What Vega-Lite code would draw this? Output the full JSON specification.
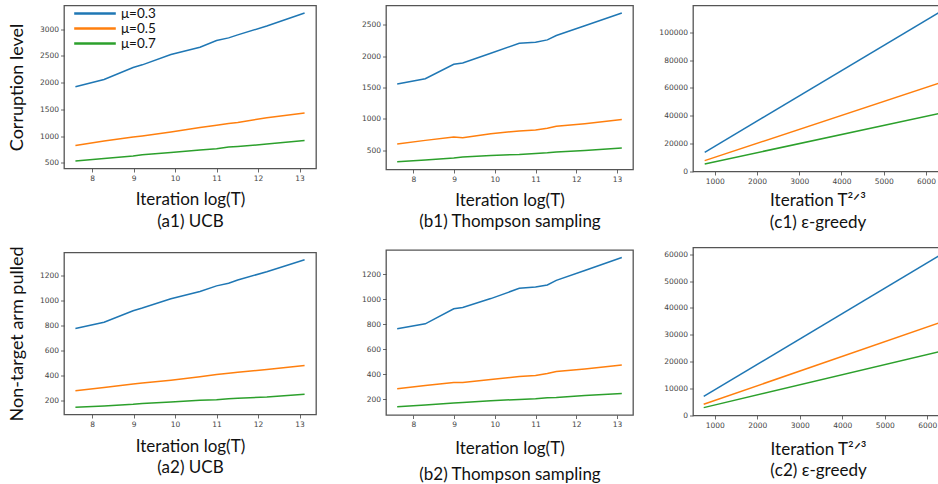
{
  "$schema": "https://vega.github.io/schema/vega-lite/v6.json",
  "background": "white",
  "padding": {"left": 7, "top": 4.5, "right": 0, "bottom": 0},
  "config": {
    "view": {"stroke": "#555", "strokeWidth": 1.3},
    "axis": {"domain": false, "grid": false, "tickColor": "#444", "tickSize": 3.5, "tickWidth": 0.8, "labelFont": "DejaVu Sans", "labelFontSize": 7.5, "labelColor": "#444", "labelPadding": 2, "labelFlush": false, "format": "d", "titleFont": "Lato", "titleFontWeight": "normal", "titleColor": "#111", "titleFontSize": 17},
    "axisX": {"minExtent": 13, "maxExtent": 13},
    "axisY": {"titleFontSize": 18}
  },
  "datasets": {
    "a1": [
      {"x": 7.6, "y": 1921, "mu": "μ=0.3"}, {"x": 8.29, "y": 2059, "mu": "μ=0.3"}, {"x": 8.99, "y": 2283, "mu": "μ=0.3"}, {"x": 9.21, "y": 2333, "mu": "μ=0.3"}, {"x": 9.9, "y": 2526, "mu": "μ=0.3"}, {"x": 10.6, "y": 2663, "mu": "μ=0.3"}, {"x": 11.0, "y": 2788, "mu": "μ=0.3"}, {"x": 11.29, "y": 2838, "mu": "μ=0.3"}, {"x": 11.51, "y": 2894, "mu": "μ=0.3"}, {"x": 12.21, "y": 3060, "mu": "μ=0.3"}, {"x": 13.12, "y": 3305, "mu": "μ=0.3"},
      {"x": 7.6, "y": 824, "mu": "μ=0.5"}, {"x": 8.29, "y": 905, "mu": "μ=0.5"}, {"x": 8.99, "y": 980, "mu": "μ=0.5"}, {"x": 9.21, "y": 1000, "mu": "μ=0.5"}, {"x": 9.9, "y": 1074, "mu": "μ=0.5"}, {"x": 10.6, "y": 1161, "mu": "μ=0.5"}, {"x": 11.0, "y": 1204, "mu": "μ=0.5"}, {"x": 11.29, "y": 1236, "mu": "μ=0.5"}, {"x": 11.51, "y": 1254, "mu": "μ=0.5"}, {"x": 12.21, "y": 1342, "mu": "μ=0.5"}, {"x": 13.12, "y": 1429, "mu": "μ=0.5"},
      {"x": 7.6, "y": 531, "mu": "μ=0.7"}, {"x": 8.29, "y": 581, "mu": "μ=0.7"}, {"x": 8.99, "y": 625, "mu": "μ=0.7"}, {"x": 9.21, "y": 650, "mu": "μ=0.7"}, {"x": 9.9, "y": 693, "mu": "μ=0.7"}, {"x": 10.6, "y": 737, "mu": "μ=0.7"}, {"x": 11.0, "y": 762, "mu": "μ=0.7"}, {"x": 11.29, "y": 793, "mu": "μ=0.7"}, {"x": 11.51, "y": 805, "mu": "μ=0.7"}, {"x": 12.21, "y": 849, "mu": "μ=0.7"}, {"x": 13.12, "y": 918, "mu": "μ=0.7"}
    ],
    "b1": [
      {"x": 7.6, "y": 1554, "mu": "μ=0.3"}, {"x": 8.29, "y": 1639, "mu": "μ=0.3"}, {"x": 8.99, "y": 1869, "mu": "μ=0.3"}, {"x": 9.21, "y": 1890, "mu": "μ=0.3"}, {"x": 9.9, "y": 2046, "mu": "μ=0.3"}, {"x": 10.6, "y": 2206, "mu": "μ=0.3"}, {"x": 11.0, "y": 2222, "mu": "μ=0.3"}, {"x": 11.29, "y": 2259, "mu": "μ=0.3"}, {"x": 11.51, "y": 2329, "mu": "μ=0.3"}, {"x": 12.21, "y": 2484, "mu": "μ=0.3"}, {"x": 13.12, "y": 2687, "mu": "μ=0.3"},
      {"x": 7.6, "y": 596, "mu": "μ=0.5"}, {"x": 8.29, "y": 655, "mu": "μ=0.5"}, {"x": 8.99, "y": 709, "mu": "μ=0.5"}, {"x": 9.21, "y": 698, "mu": "μ=0.5"}, {"x": 9.9, "y": 762, "mu": "μ=0.5"}, {"x": 10.6, "y": 805, "mu": "μ=0.5"}, {"x": 11.0, "y": 821, "mu": "μ=0.5"}, {"x": 11.29, "y": 848, "mu": "μ=0.5"}, {"x": 11.51, "y": 880, "mu": "μ=0.5"}, {"x": 12.21, "y": 922, "mu": "μ=0.5"}, {"x": 13.12, "y": 987, "mu": "μ=0.5"},
      {"x": 7.6, "y": 313, "mu": "μ=0.7"}, {"x": 8.29, "y": 340, "mu": "μ=0.7"}, {"x": 8.99, "y": 372, "mu": "μ=0.7"}, {"x": 9.21, "y": 388, "mu": "μ=0.7"}, {"x": 9.9, "y": 414, "mu": "μ=0.7"}, {"x": 10.6, "y": 430, "mu": "μ=0.7"}, {"x": 11.0, "y": 447, "mu": "μ=0.7"}, {"x": 11.29, "y": 457, "mu": "μ=0.7"}, {"x": 11.51, "y": 468, "mu": "μ=0.7"}, {"x": 12.21, "y": 495, "mu": "μ=0.7"}, {"x": 13.12, "y": 532, "mu": "μ=0.7"}
    ],
    "c1": [
      {"x": 763, "y": 13670, "mu": "μ=0.3"}, {"x": 6300, "y": 113900, "mu": "μ=0.3"},
      {"x": 763, "y": 7670, "mu": "μ=0.5"}, {"x": 6300, "y": 63300, "mu": "μ=0.5"},
      {"x": 763, "y": 5280, "mu": "μ=0.7"}, {"x": 6300, "y": 41490, "mu": "μ=0.7"}
    ],
    "a2": [
      {"x": 7.6, "y": 774, "mu": "μ=0.3"}, {"x": 8.29, "y": 824, "mu": "μ=0.3"}, {"x": 8.99, "y": 917, "mu": "μ=0.3"}, {"x": 9.21, "y": 938, "mu": "μ=0.3"}, {"x": 9.9, "y": 1012, "mu": "μ=0.3"}, {"x": 10.6, "y": 1071, "mu": "μ=0.3"}, {"x": 11.0, "y": 1116, "mu": "μ=0.3"}, {"x": 11.29, "y": 1137, "mu": "μ=0.3"}, {"x": 11.51, "y": 1163, "mu": "μ=0.3"}, {"x": 12.21, "y": 1229, "mu": "μ=0.3"}, {"x": 13.12, "y": 1325, "mu": "μ=0.3"},
      {"x": 7.6, "y": 277, "mu": "μ=0.5"}, {"x": 8.29, "y": 303, "mu": "μ=0.5"}, {"x": 8.99, "y": 330, "mu": "μ=0.5"}, {"x": 9.21, "y": 338, "mu": "μ=0.5"}, {"x": 9.9, "y": 361, "mu": "μ=0.5"}, {"x": 10.6, "y": 388, "mu": "μ=0.5"}, {"x": 11.0, "y": 406, "mu": "μ=0.5"}, {"x": 11.29, "y": 417, "mu": "μ=0.5"}, {"x": 11.51, "y": 425, "mu": "μ=0.5"}, {"x": 12.21, "y": 446, "mu": "μ=0.5"}, {"x": 13.12, "y": 478, "mu": "μ=0.5"},
      {"x": 7.6, "y": 144, "mu": "μ=0.7"}, {"x": 8.29, "y": 155, "mu": "μ=0.7"}, {"x": 8.99, "y": 168, "mu": "μ=0.7"}, {"x": 9.21, "y": 174, "mu": "μ=0.7"}, {"x": 9.9, "y": 187, "mu": "μ=0.7"}, {"x": 10.6, "y": 200, "mu": "μ=0.7"}, {"x": 11.0, "y": 205, "mu": "μ=0.7"}, {"x": 11.29, "y": 213, "mu": "μ=0.7"}, {"x": 11.51, "y": 216, "mu": "μ=0.7"}, {"x": 12.21, "y": 226, "mu": "μ=0.7"}, {"x": 13.12, "y": 248, "mu": "μ=0.7"}
    ],
    "b2": [
      {"x": 7.6, "y": 762, "mu": "μ=0.3"}, {"x": 8.29, "y": 802, "mu": "μ=0.3"}, {"x": 8.99, "y": 922, "mu": "μ=0.3"}, {"x": 9.21, "y": 932, "mu": "μ=0.3"}, {"x": 9.9, "y": 1004, "mu": "μ=0.3"}, {"x": 10.6, "y": 1086, "mu": "μ=0.3"}, {"x": 11.0, "y": 1097, "mu": "μ=0.3"}, {"x": 11.29, "y": 1113, "mu": "μ=0.3"}, {"x": 11.51, "y": 1150, "mu": "μ=0.3"}, {"x": 12.21, "y": 1229, "mu": "μ=0.3"}, {"x": 13.12, "y": 1333, "mu": "μ=0.3"},
      {"x": 7.6, "y": 282, "mu": "μ=0.5"}, {"x": 8.29, "y": 309, "mu": "μ=0.5"}, {"x": 8.99, "y": 333, "mu": "μ=0.5"}, {"x": 9.21, "y": 333, "mu": "μ=0.5"}, {"x": 9.9, "y": 357, "mu": "μ=0.5"}, {"x": 10.6, "y": 380, "mu": "μ=0.5"}, {"x": 11.0, "y": 388, "mu": "μ=0.5"}, {"x": 11.29, "y": 404, "mu": "μ=0.5"}, {"x": 11.51, "y": 420, "mu": "μ=0.5"}, {"x": 12.21, "y": 441, "mu": "μ=0.5"}, {"x": 13.12, "y": 473, "mu": "μ=0.5"},
      {"x": 7.6, "y": 139, "mu": "μ=0.7"}, {"x": 8.29, "y": 152, "mu": "μ=0.7"}, {"x": 8.99, "y": 168, "mu": "μ=0.7"}, {"x": 9.21, "y": 173, "mu": "μ=0.7"}, {"x": 9.9, "y": 187, "mu": "μ=0.7"}, {"x": 10.6, "y": 197, "mu": "μ=0.7"}, {"x": 11.0, "y": 203, "mu": "μ=0.7"}, {"x": 11.29, "y": 211, "mu": "μ=0.7"}, {"x": 11.51, "y": 213, "mu": "μ=0.7"}, {"x": 12.21, "y": 229, "mu": "μ=0.7"}, {"x": 13.12, "y": 245, "mu": "μ=0.7"}
    ],
    "c2": [
      {"x": 740, "y": 7060, "mu": "μ=0.3"}, {"x": 6300, "y": 59600, "mu": "μ=0.3"},
      {"x": 740, "y": 4090, "mu": "μ=0.5"}, {"x": 6300, "y": 34570, "mu": "μ=0.5"},
      {"x": 740, "y": 2850, "mu": "μ=0.7"}, {"x": 6300, "y": 23790, "mu": "μ=0.7"}
    ]
  },
  "spacing": 10,
  "resolve": {"scale": {"x": "independent", "y": "independent", "color": "independent"}, "legend": {"color": "independent"}},
  "hconcat": [
    {
      "vconcat": [
        {
          "data": {"name": "a1"},
          "width": 252, "height": 163,
          "mark": {"type": "line", "strokeWidth": 1.5},
          "encoding": {
            "x": {"field": "x", "type": "quantitative", "scale": {"domain": [7.325, 13.395], "nice": false, "zero": false}, "axis": {"values": [8, 9, 10, 11, 12, 13], "title": ["Iteration log(T)", "(a1) UCB"], "titlePadding": 10, "titleLineHeight": 22}},
            "y": {"field": "y", "type": "quantitative", "scale": {"domain": [392, 3444], "nice": false, "zero": false}, "axis": {"values": [500, 1000, 1500, 2000, 2500, 3000], "title": "Corruption level", "minExtent": 28, "maxExtent": 28, "titlePadding": 10}},
            "color": {"field": "mu", "type": "nominal", "scale": {"domain": ["μ=0.3", "μ=0.5", "μ=0.7"], "range": ["#1f77b4", "#ff7f0e", "#2ca02c"]},
              "legend": {"orient": "none", "legendX": 10, "legendY": 0, "title": null, "padding": 0, "rowPadding": 0, "symbolType": "M-3.2,0H3.2", "symbolSize": 169, "symbolStrokeWidth": 2.5, "symbolOffset": 13, "labelOffset": 18, "labelFont": "Lato", "labelFontSize": 13.5, "labelColor": "#111"}}
          }
        },
        {
          "data": {"name": "a2"},
          "width": 252, "height": 162,
          "mark": {"type": "line", "strokeWidth": 1.5},
          "encoding": {
            "x": {"field": "x", "type": "quantitative", "scale": {"domain": [7.325, 13.395], "nice": false, "zero": false}, "axis": {"values": [8, 9, 10, 11, 12, 13], "title": ["Iteration log(T)", "(a2) UCB"], "titlePadding": 11, "titleLineHeight": 20.5}},
            "y": {"field": "y", "type": "quantitative", "scale": {"domain": [86, 1383], "nice": false, "zero": false}, "axis": {"values": [200, 400, 600, 800, 1000, 1200], "title": "Non-target arm pulled", "minExtent": 28, "maxExtent": 28, "titlePadding": 10}},
            "color": {"field": "mu", "type": "nominal", "scale": {"domain": ["μ=0.3", "μ=0.5", "μ=0.7"], "range": ["#1f77b4", "#ff7f0e", "#2ca02c"]}, "legend": null}
          }
        }
      ],
      "spacing": 84,
      "bounds": "flush",
      "resolve": {"scale": {"x": "independent", "y": "independent", "color": "independent"}, "legend": {"color": "independent"}}
    },
    {
      "vconcat": [
        {
          "data": {"name": "b1"},
          "width": 247, "height": 164,
          "mark": {"type": "line", "strokeWidth": 1.5},
          "encoding": {
            "x": {"field": "x", "type": "quantitative", "scale": {"domain": [7.325, 13.395], "nice": false, "zero": false}, "axis": {"values": [8, 9, 10, 11, 12, 13], "title": ["Iteration log(T)", "(b1) Thompson sampling"], "titlePadding": 10, "titleLineHeight": 21}},
            "y": {"field": "y", "type": "quantitative", "scale": {"domain": [190, 2808], "nice": false, "zero": false}, "axis": {"values": [500, 1000, 1500, 2000, 2500], "title": null, "minExtent": 57.8, "maxExtent": 57.8}},
            "color": {"field": "mu", "type": "nominal", "scale": {"domain": ["μ=0.3", "μ=0.5", "μ=0.7"], "range": ["#1f77b4", "#ff7f0e", "#2ca02c"]}, "legend": null}
          }
        },
        {
          "data": {"name": "b2"},
          "width": 247, "height": 165,
          "mark": {"type": "line", "strokeWidth": 1.5},
          "encoding": {
            "x": {"field": "x", "type": "quantitative", "scale": {"domain": [7.325, 13.395], "nice": false, "zero": false}, "axis": {"values": [8, 9, 10, 11, 12, 13], "title": ["Iteration log(T)", "(b2) Thompson sampling"], "titlePadding": 12, "titleLineHeight": 26.5}},
            "y": {"field": "y", "type": "quantitative", "scale": {"domain": [72, 1393], "nice": false, "zero": false}, "axis": {"values": [200, 400, 600, 800, 1000, 1200], "title": null, "minExtent": 57.8, "maxExtent": 57.8}},
            "color": {"field": "mu", "type": "nominal", "scale": {"domain": ["μ=0.3", "μ=0.5", "μ=0.7"], "range": ["#1f77b4", "#ff7f0e", "#2ca02c"]}, "legend": null}
          }
        }
      ],
      "spacing": 80.5,
      "bounds": "flush",
      "resolve": {"scale": {"x": "independent", "y": "independent", "color": "independent"}, "legend": {"color": "independent"}}
    },
    {
      "vconcat": [
        {
          "data": {"name": "c1"},
          "width": 249, "height": 166,
          "mark": {"type": "line", "strokeWidth": 1.5},
          "encoding": {
            "x": {"field": "x", "type": "quantitative", "scale": {"domain": [486, 6380], "nice": false, "zero": false}, "axis": {"values": [1000, 2000, 3000, 4000, 5000, 6000], "title": ["Iteration T²ᐟ³", "(c1) ε-greedy"], "titlePadding": 8, "titleLineHeight": 22}},
            "y": {"field": "y", "type": "quantitative", "scale": {"domain": [-151, 119200], "nice": false, "zero": false}, "axis": {"values": [0, 20000, 40000, 60000, 80000, 100000], "title": null, "minExtent": 47.8, "maxExtent": 47.8}},
            "color": {"field": "mu", "type": "nominal", "scale": {"domain": ["μ=0.3", "μ=0.5", "μ=0.7"], "range": ["#1f77b4", "#ff7f0e", "#2ca02c"]}, "legend": null}
          }
        },
        {
          "data": {"name": "c2"},
          "width": 250, "height": 168,
          "mark": {"type": "line", "strokeWidth": 1.5},
          "encoding": {
            "x": {"field": "x", "type": "quantitative", "scale": {"domain": [488, 6370], "nice": false, "zero": false}, "axis": {"values": [1000, 2000, 3000, 4000, 5000, 6000], "title": ["Iteration T²ᐟ³", "(c2) ε-greedy"], "titlePadding": 12.5, "titleLineHeight": 21.3}},
            "y": {"field": "y", "type": "quantitative", "scale": {"domain": [-80, 62500], "nice": false, "zero": false}, "axis": {"values": [0, 10000, 20000, 30000, 40000, 50000, 60000], "title": null, "minExtent": 47.8, "maxExtent": 47.8}},
            "color": {"field": "mu", "type": "nominal", "scale": {"domain": ["μ=0.3", "μ=0.5", "μ=0.7"], "range": ["#1f77b4", "#ff7f0e", "#2ca02c"]}, "legend": null}
          }
        }
      ],
      "spacing": 76,
      "bounds": "flush",
      "resolve": {"scale": {"x": "independent", "y": "independent", "color": "independent"}, "legend": {"color": "independent"}}
    }
  ]
}
